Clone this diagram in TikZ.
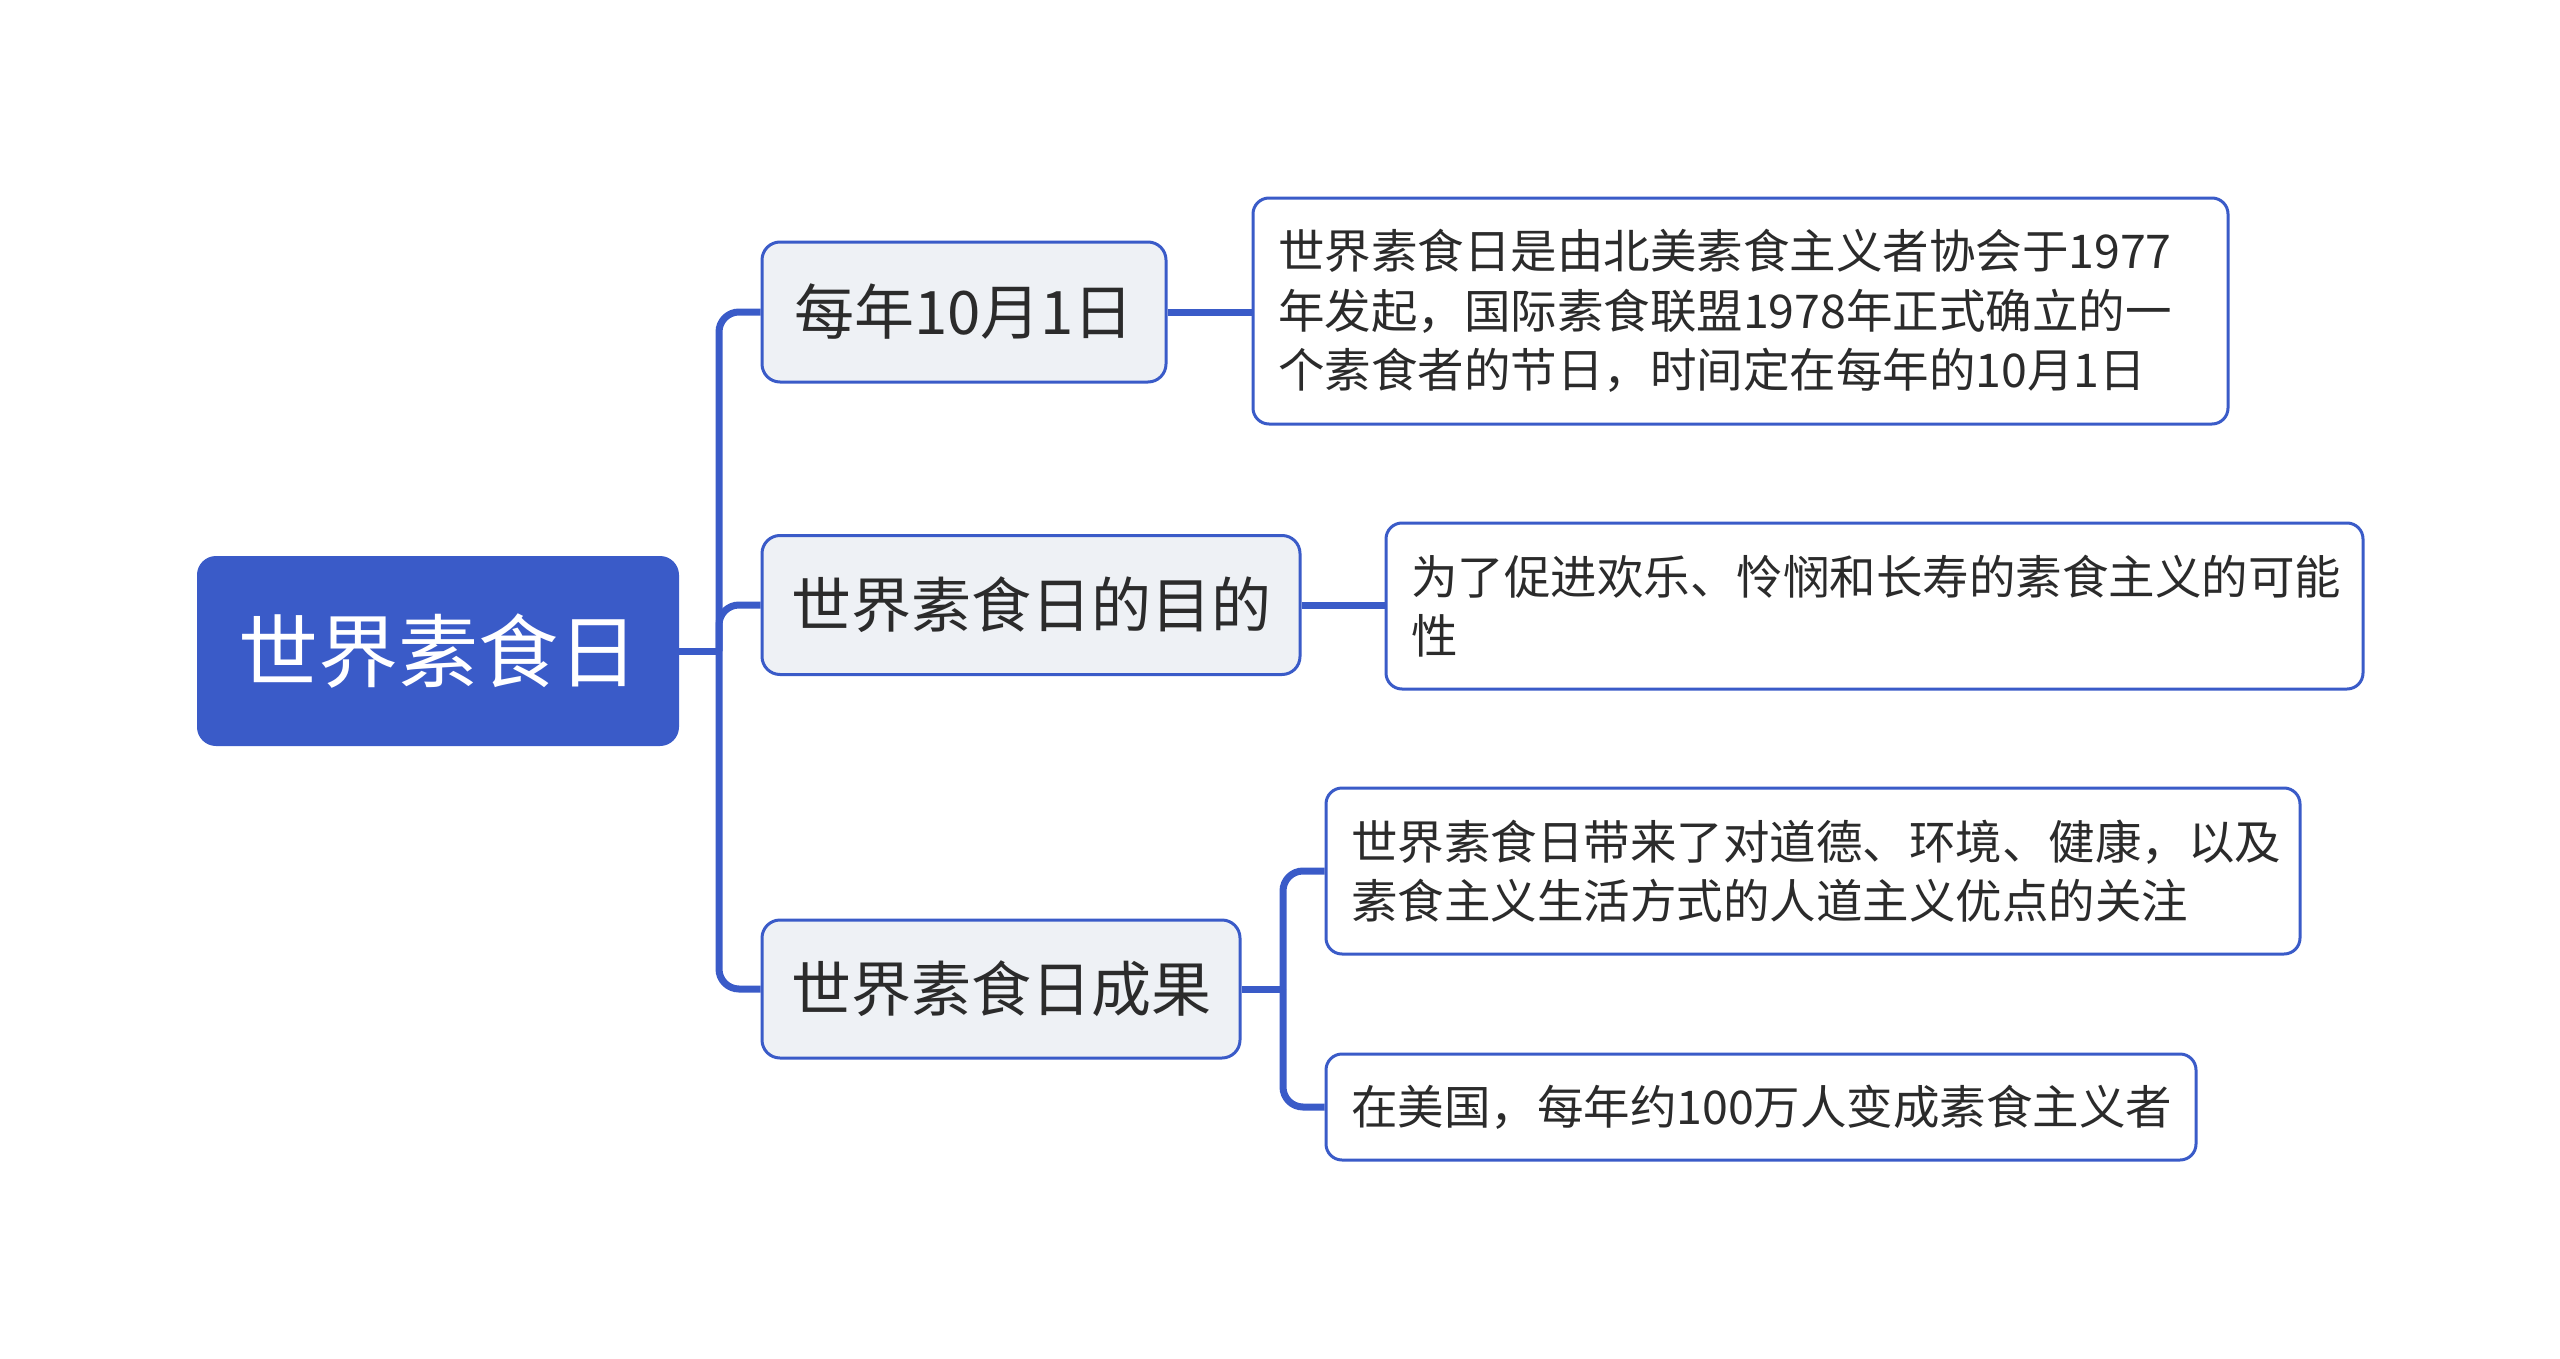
\documentclass[tikz,border=0pt]{standalone}
\usepackage{fontspec}
\setmainfont{Noto Sans CJK SC}
\definecolor{mblue}{HTML}{3A5BC8}
\definecolor{bfill}{HTML}{EEF1F5}
\definecolor{tdark}{HTML}{2B2B2B}
\begin{document}
\begin{tikzpicture}[x=0.5pt,y=-0.5pt,
  rootbox/.style={draw=mblue, fill=mblue, rounded corners=9pt, line width=1pt,
    minimum width=240pt, minimum height=94pt, text=white, inner sep=0pt,
    font=\fontsize{40}{48}\selectfont},
  branchbox/.style={draw=mblue, fill=bfill, rounded corners=9pt, line width=1.5pt,
    minimum height=70pt, inner sep=0pt, text=tdark,
    font=\fontsize{30}{36}\selectfont},
  leafbox/.style={draw=mblue, fill=white, rounded corners=8pt, line width=1.5pt,
    align=left, inner xsep=12.5pt, inner ysep=0pt, text=tdark,
    font=\fontsize{23.25}{29.75}\selectfont},
  link/.style={draw=mblue, line width=3.5pt, rounded corners=10pt}]
\useasboundingbox (0,0) rectangle (2560,1359);

\node[rootbox] (root) at (438,651) {世界素食日};

\node[branchbox, minimum width=202pt] (b1) at (964,312) {每年10月1日};
\node[branchbox, minimum width=269pt, minimum height=69.5pt] (b2) at (1031,605) {世界素食日的目的};
\node[branchbox, minimum width=239pt, minimum height=69pt] (b3) at (1001,989) {世界素食日成果};

\node[leafbox, text width=462.5pt, minimum height=113pt] (l1) at (1740.5,311)
  {世界素食日是由北美素食主义者协会于1977\\年发起，国际素食联盟1978年正式确立的一\\个素食者的节日，时间定在每年的10月1日};
\node[leafbox, text width=463.5pt, minimum height=83pt] (l2) at (1874.5,606)
  {为了促进欢乐、怜悯和长寿的素食主义的可能\\性};
\node[leafbox, text width=462pt, minimum height=83pt] (l3) at (1813,871)
  {世界素食日带来了对道德、环境、健康，以及\\素食主义生活方式的人道主义优点的关注};
\node[leafbox, text width=410pt, minimum height=53pt] (l4) at (1761,1107)
  {在美国，每年约100万人变成素食主义者};

\coordinate (j0) at (719,651);
\draw[link] (root.east) -- (j0);
\draw[link] (j0) |- (b1.west);
\draw[link] (j0) |- (b2.west);
\draw[link] (j0) |- (b3.west);

\draw[link] (b1.east) -- (b1.east -| l1.west);
\draw[link] (b2.east) -- (b2.east -| l2.west);

\coordinate (j3) at (1283,989);
\draw[link] (b3.east) -- (j3);
\draw[link] (j3) |- (l3.west);
\draw[link] (j3) |- (l4.west);
\end{tikzpicture}
\end{document}
